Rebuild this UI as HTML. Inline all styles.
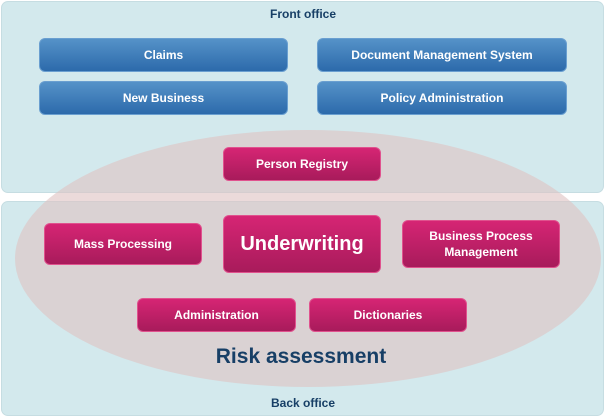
<!DOCTYPE html>
<html><head><meta charset="utf-8"><style>
body{margin:0;width:606px;height:419px;background:#fff;position:relative;overflow:hidden;font-family:"Liberation Sans","DejaVu Sans",sans-serif;font-weight:bold}
.p{position:absolute;background:#d3e9ed;border:1px solid #c6dde2;border-radius:7px;box-sizing:border-box}
.t{position:absolute;color:#173f66;font-size:12px;text-align:center;width:100%}
.e{position:absolute;left:15px;top:130px;width:586px;height:257px;border-radius:50%;background:rgba(222,196,196,0.62)}
.b{position:absolute;border-radius:6px;color:#fff;font-size:12px;display:flex;align-items:center;justify-content:center;text-align:center;box-sizing:border-box;line-height:16px}
.bl{background:linear-gradient(#5592c8,#2c6aab);border:1px solid #6a9fd0}
.pk{background:linear-gradient(#d62574,#a81b5b);border:1px solid #e0528e}
</style></head><body>
<div class="p" style="left:1px;top:1px;width:603px;height:192px"></div>
<div class="p" style="left:1px;top:201px;width:603px;height:215px"></div>
<div class="t" style="left:0;top:7px">Front office</div>
<div class="t" style="left:0;top:396px">Back office</div>
<div class="e"></div>
<div class="b bl" style="left:39px;top:38px;width:249px;height:34px">Claims</div>
<div class="b bl" style="left:317px;top:38px;width:250px;height:34px">Document Management System</div>
<div class="b bl" style="left:39px;top:81px;width:249px;height:34px">New Business</div>
<div class="b bl" style="left:317px;top:81px;width:250px;height:34px">Policy Administration</div>
<div class="b pk" style="left:223px;top:147px;width:158px;height:34px">Person Registry</div>
<div class="b pk" style="left:44px;top:223px;width:158px;height:42px">Mass Processing</div>
<div class="b pk" style="left:223px;top:215px;width:158px;height:58px;font-size:20px">Underwriting</div>
<div class="b pk" style="left:402px;top:220px;width:158px;height:48px">Business Process<br>Management</div>
<div class="b pk" style="left:137px;top:298px;width:159px;height:34px">Administration</div>
<div class="b pk" style="left:309px;top:298px;width:158px;height:34px">Dictionaries</div>
<div style="position:absolute;left:150px;width:302px;top:345px;text-align:center;color:#173f66;font-size:21px">Risk assessment</div>
</body></html>
